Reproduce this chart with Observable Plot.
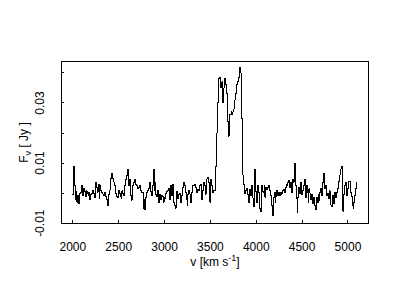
<!DOCTYPE html>
<html><head><meta charset="utf-8">
<script src="https://cdn.jsdelivr.net/npm/d3@7"></script>
<script src="https://cdn.jsdelivr.net/npm/@observablehq/plot@0.6"></script>
<style>body{margin:0;background:#fff}</style>
</head><body><div id="chart"></div>
<script>
// channel velocities (km/s), evenly spaced 10 km/s grid from 2000 to 5100
const velocity = d3.range(2000, 5101, 10);
// flux density (Jy), one row per 100 km/s
const flux = [
 -0.0005, 0.009, 0.0025,-0.002, 0.0005,-0.003,-0.0008,-0.0035, 0.000, 0.0003,
  0.0025,-0.0008, 0.0015, 0.0005,-0.001, 0.0008, 0.000,-0.0008, 0.0003,-0.002,
 -0.0005, 0.000, 0.0008, 0.000,-0.0015, 0.0037, 0.002, 0.0003, 0.003,-0.0018,
  0.0025, 0.001, 0.0003,-0.0003,-0.0008, 0.0003,-0.001,-0.002,-0.004,-0.0005,
  0.001, 0.002, 0.005, 0.0065, 0.005, 0.0037, 0.0025, 0.000,-0.001,-0.0015,
  0.0008, 0.000,-0.001,-0.0018, 0.0008, 0.000,-0.0008, 0.0025, 0.0047, 0.0058,
  0.008, 0.0025, 0.0047,-0.0008,-0.0024, 0.000, 0.0025, 0.0037, 0.0047, 0.003,
  0.0025, 0.0015, 0.002, 0.0025, 0.0008, 0.0003, 0.0003,-0.005,-0.002,-0.0055,
 -0.0015, 0.0003, 0.001, 0.0015, 0.0037, 0.0005,-0.0008, 0.0025, 0.008, 0.001,
  0.0037,-0.0005,-0.001, 0.001,-0.003,-0.0003,-0.002,-0.0008,-0.001,-0.003,
 -0.0013,-0.0018, 0.000, 0.0005, 0.0008, 0.0015,-0.002, 0.0025,-0.0008, 0.003,
 -0.003,-0.004,-0.005,-0.0018, 0.0005,-0.0018,-0.0003, 0.000,-0.003,-0.0008,
  0.002, 0.0037, 0.0025, 0.0003,-0.002,-0.004,-0.0005, 0.001,-0.0003,-0.003,
  0.0003, 0.0025, 0.0025, 0.003, 0.002, 0.0003, 0.0013, 0.0008, 0.001, 0.0025,
  0.003,-0.002, 0.001, 0.0037, 0.0025,-0.0003, 0.0047, 0.0053, 0.0037, 0.001,
 -0.003, 0.0047, 0.0025, 0.0003, 0.0008, 0.001, 0.009, 0.020, 0.030, 0.038,
  0.0385, 0.036, 0.035, 0.037, 0.030, 0.035, 0.038, 0.036, 0.033, 0.024,
  0.019, 0.026, 0.026, 0.027, 0.026, 0.027, 0.028, 0.031, 0.033, 0.036,
  0.037, 0.0385, 0.0417, 0.040, 0.025, 0.010, 0.006, 0.003, 0.000, 0.0008,
  0.0015,-0.0003,-0.003, 0.0013,-0.0008, 0.0025,-0.0015,-0.004,-0.0045, 0.008,
  0.0005,-0.003, 0.0025, 0.0003,-0.005,-0.006, 0.0025, 0.0005, 0.0003, 0.0025,
 -0.0013, 0.0018, 0.0013, 0.002, 0.0025, 0.0008,-0.0008,-0.004,-0.0076,-0.0015,
  0.0003,-0.003,-0.001, 0.0008,-0.0008, 0.0003,-0.0008, 0.0003,-0.0003, 0.0008,
  0.0013, 0.0003, 0.0018, 0.003, 0.0025, 0.0035, 0.0042, 0.002, 0.0037, 0.0003,
  0.0047, 0.0037, 0.010, 0.0025,-0.0018,-0.0065,-0.0013, 0.002, 0.000, 0.0035,
 -0.0005, 0.001, 0.0025, 0.0045,-0.0015, 0.0025, 0.0003,-0.003, 0.0015, 0.000,
 -0.002,-0.0005,-0.0035,-0.0015,-0.004,-0.0055,-0.0013,-0.003,-0.0003,-0.0024,
  0.0003, 0.0015,-0.0008, 0.0037, 0.0065, 0.0015, 0.0025,-0.0008, 0.000,-0.0018,
  0.0008,-0.003,-0.004,-0.0045,-0.0008,-0.0035, 0.0003,-0.0013, 0.0003, 0.0015,
  0.004, 0.006, 0.008, 0.009, 0.0025,-0.006,-0.0003, 0.0025, 0.0037,-0.0008,
  0.0015, 0.004, 0.004, 0.0003,-0.001,-0.004,-0.005,-0.003,-0.0008, 0.0015,
  0.0037
];
const xTicks = [2000, 2500, 3000, 3500, 4000, 4500, 5000];
const yTicks = [-0.01, 0, 0.01, 0.02, 0.03, 0.04];
const yLabelTicks = [-0.01, 0.01, 0.03];
const yLabels = ["-0.01", "0.01", "0.03"];
const xTitleParts = ["v [km s", "-1", "]"];
const yTitleParts = ["F", "\u03bd", " [ Jy ]"];

const data = velocity.map((v, i) => ({v, f: flux[i]}));
const xTitle = xTitleParts.join("");
const yTitle = yTitleParts.join("");

const chart = Plot.plot({
  width: 400, height: 300,
  marginLeft: 61, marginRight: 32, marginTop: 61, marginBottom: 77,
  style: {fontFamily: '"Liberation Sans", Arial, Helvetica, sans-serif', fontSize: "12px", background: "white", color: "black"},
  x: {domain: [1876, 5224], axis: null},
  y: {domain: [-0.0101, 0.0438], axis: null},
  marks: [
    Plot.tickX(xTicks, {x: d => d, insetTop: 159, stroke: "black", shapeRendering: "crispEdges"}),
    Plot.tickY(yTicks, {y: d => d, insetRight: 304, stroke: "black", shapeRendering: "crispEdges"}),
    Plot.text(xTicks, {x: d => d, text: d => String(d), frameAnchor: "bottom", dy: 27, lineAnchor: "bottom", textAnchor: "middle", fill: "black"}),
    Plot.text(yLabelTicks, {y: d => d, text: (d, i) => yLabels[i], frameAnchor: "left", dx: -18, rotate: -90, lineAnchor: "bottom", textAnchor: "middle", fill: "black"}),
    Plot.text([xTitle], {text: d => d, frameAnchor: "bottom", dy: 42, lineAnchor: "bottom", textAnchor: "middle", fill: "black"}),
    Plot.text([yTitle], {text: d => d, frameAnchor: "left", dx: -34, rotate: -90, lineAnchor: "bottom", textAnchor: "middle", fill: "black"}),
    Plot.line(data, {x: "v", y: "f", curve: "step", stroke: "black", strokeWidth: 1, shapeRendering: "crispEdges"}),
    Plot.frame({stroke: "black", strokeWidth: 1, shapeRendering: "crispEdges"})
  ]
});
document.getElementById("chart").appendChild(chart);

// rich text for axis titles (sub/superscripts)
d3.select(chart).selectAll("text").each(function() {
  const t = d3.select(this);
  if (this.textContent === yTitle) {
    t.text(null);
    t.append("tspan").text(yTitleParts[0]);
    t.append("tspan").attr("dy", "3").attr("font-size", "9px").text(yTitleParts[1]);
    t.append("tspan").attr("dy", "-3").text(yTitleParts[2]);
  } else if (this.textContent === xTitle) {
    t.text(null);
    t.append("tspan").text(xTitleParts[0]);
    t.append("tspan").attr("dy", "-5").attr("font-size", "9px").text(xTitleParts[1]);
    t.append("tspan").attr("dy", "5").text(xTitleParts[2]);
  }
});
</script>
</body></html>
